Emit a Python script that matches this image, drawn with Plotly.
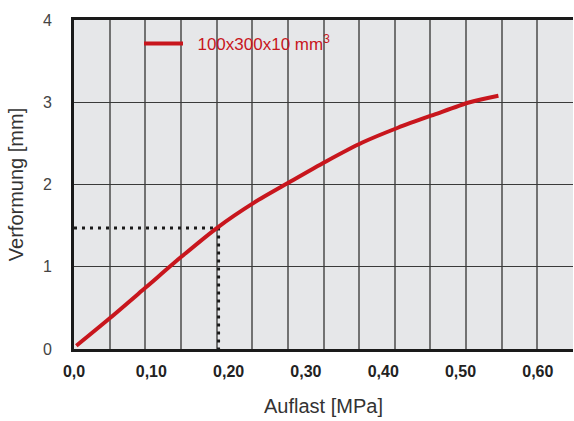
import plotly.graph_objects as go

# --- data ---
auflast_mpa = [0.003, 0.047, 0.093, 0.140, 0.186, 0.233, 0.279, 0.326, 0.373, 0.419, 0.466, 0.512, 0.549]
verformung_mm = [0.04, 0.38, 0.75, 1.13, 1.48, 1.78, 2.03, 2.28, 2.51, 2.69, 2.85, 3.00, 3.08]
series_name = "\u00a0\u00a0100x300x10 mm<sup>3</sup>"

ref_x = 0.187   # reference load (dotted guide)
ref_y = 1.47    # reference deformation

x_tickvals = [0.0, 0.1, 0.2, 0.3, 0.4, 0.5, 0.6]
x_ticktext = ["0,0", "0,10", "0,20", "0,30", "0,40", "0,50", "0,60"]
y_tickvals = [0, 1, 2, 3, 4]
y_ticktext = ["0", "1", "2", "3", "4"]

x_max = 0.6455
n_columns = 14

RED = "#c8161d"
FONT = "Liberation Sans, Arial, Helvetica, sans-serif"

fig = go.Figure()

fig.add_trace(go.Scatter(
    x=[0, ref_x, ref_x], y=[ref_y, ref_y, 0],
    mode="lines", line=dict(color="#1a1a1a", width=3, dash="3px,5px"),
    showlegend=False, hoverinfo="skip",
))

fig.add_trace(go.Scatter(
    x=auflast_mpa, y=verformung_mm, name=series_name,
    mode="lines", line=dict(color=RED, width=4, shape="spline", smoothing=0.8),
))

fig.update_layout(
    width=574, height=421,
    margin=dict(l=74, r=1, t=20, b=72),
    paper_bgcolor="white",
    plot_bgcolor="#e6e7e9",
    font=dict(family=FONT, color="#333333"),
    showlegend=True,
    legend=dict(
        x=(139 - 74) / 499, xanchor="left",
        y=1 - (44 - 20) / 329, yanchor="middle",
        bgcolor="rgba(0,0,0,0)",
        font=dict(family=FONT, size=17, color=RED),
        itemwidth=39,
    ),
    xaxis=dict(
        range=[0, x_max], automargin=False,
        tickmode="array", tickvals=x_tickvals, ticktext=x_ticktext,
        tickfont=dict(family=FONT, size=16, color="#222222", weight="bold"),
        ticks="outside", ticklen=6, tickcolor="rgba(0,0,0,0)",
        showgrid=False, zeroline=False,
        showline=True, linecolor="#1a1a1a", linewidth=3, mirror=True,
        minor=dict(tick0=0, dtick=x_max / n_columns, showgrid=True,
                   gridcolor="#727272", gridwidth=1.5, ticks=""),
        title=dict(text="Auflast [MPa]", font=dict(family=FONT, size=20, color="#333333"), standoff=20),
    ),
    yaxis=dict(
        range=[0, 4], automargin=False,
        tickmode="array", tickvals=y_tickvals, ticktext=y_ticktext,
        tickfont=dict(family=FONT, size=16, color="#444444"),
        ticks="outside", ticklen=16, tickcolor="rgba(0,0,0,0)",
        showgrid=True, gridcolor="#3a3a3a", gridwidth=1,
        zeroline=False,
        showline=True, linecolor="#1a1a1a", linewidth=3,
        title=dict(text="Verformung [mm]", font=dict(family=FONT, size=20, color="#333333"), standoff=14),
    ),
)

fig.write_html("out.html", config={"displayModeBar": False},
               post_script="document.body.style.margin='0';")
